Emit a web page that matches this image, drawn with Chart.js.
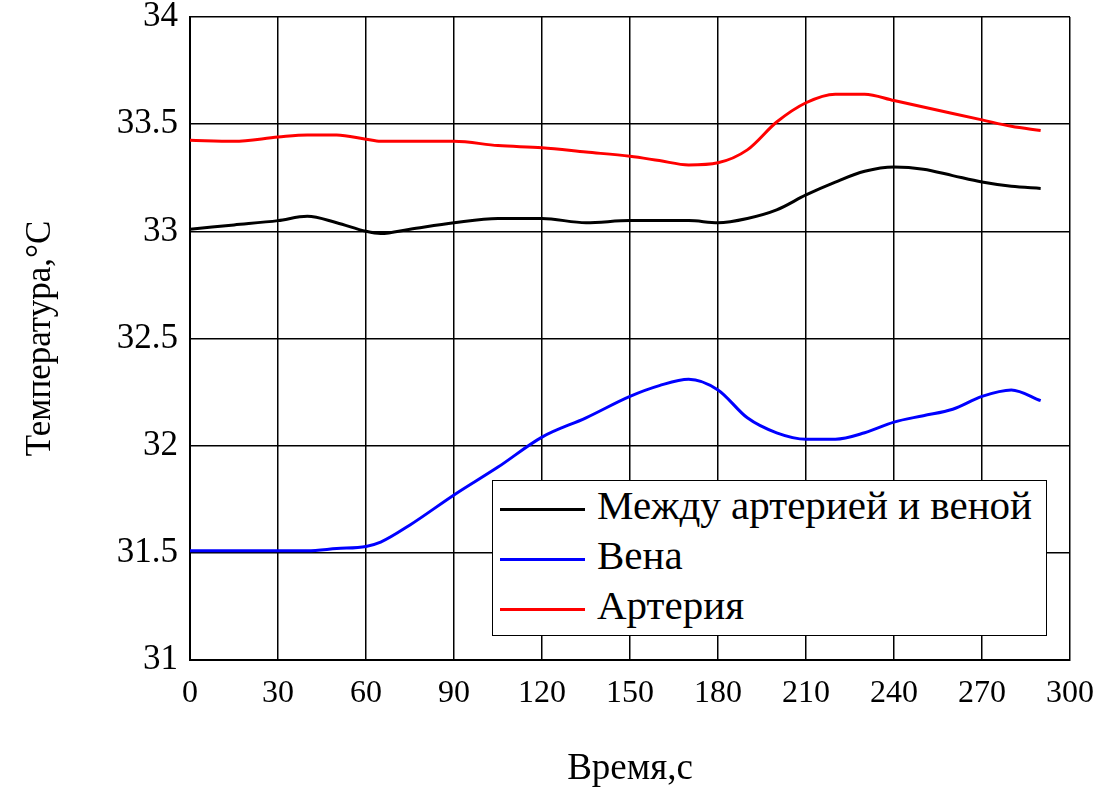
<!DOCTYPE html>
<html>
<head>
<meta charset="utf-8">
<script src="https://cdn.jsdelivr.net/npm/chart.js@4/dist/chart.umd.min.js"></script>
<style>
    body { margin: 0; background: #fff; }
    #wrap { position: relative; width: 1114px; height: 791px; }
    #legend {
        position: absolute; left: 492px; top: 480px; width: 555px; height: 156px;
        border: 1.5px solid #000; background: #fff; box-sizing: border-box;
        font-family: "Liberation Serif", serif; font-size: 41px; color: #000;
    }
    #legend .row { position: absolute; left: 7px; height: 48px; line-height: 48px; white-space: nowrap; }
    #legend .swatch { display: inline-block; width: 85px; height: 3px; vertical-align: middle; margin-right: 12px; }
</style>
</head>
<body>
<div id="wrap">
    <canvas id="tempChart" width="1114" height="791"></canvas>
    <div id="legend"></div>
</div>
<script>
// time, s
var times   = [0, 15, 30, 40, 50, 60, 65, 75, 90, 105, 120, 135, 150, 160, 170, 180, 190, 200, 210, 220, 230, 240, 250, 260, 270, 280, 290];
// temperatures, °C
var between = [33.01, 33.03, 33.05, 33.07, 33.04, 33.00, 32.99, 33.01, 33.04, 33.06, 33.06, 33.04, 33.05, 33.05, 33.05, 33.04, 33.06, 33.10, 33.17, 33.23, 33.28, 33.30, 33.29, 33.26, 33.23, 33.21, 33.20];
var vein    = [31.51, 31.51, 31.51, 31.51, 31.52, 31.53, 31.55, 31.63, 31.77, 31.90, 32.04, 32.13, 32.23, 32.28, 32.31, 32.26, 32.13, 32.06, 32.03, 32.03, 32.06, 32.11, 32.14, 32.17, 32.23, 32.26, 32.21];
var artery  = [33.425, 33.42, 33.44, 33.45, 33.45, 33.43, 33.42, 33.42, 33.42, 33.40, 33.39, 33.37, 33.35, 33.33, 33.31, 33.32, 33.38, 33.51, 33.60, 33.64, 33.64, 33.61, 33.58, 33.55, 33.52, 33.49, 33.47];
var seriesNames = ['Между артерией и веной', 'Вена', 'Артерия'];
var seriesColors = ['#000000', '#0000ff', '#ff0000'];
var xTicks = [0, 30, 60, 90, 120, 150, 180, 210, 240, 270, 300];
var yTicks = [31, 31.5, 32, 32.5, 33, 33.5, 34];

function pts(ys) {
    return times.map(function (t, i) { return { x: t, y: ys[i] }; });
}

var serif = "'Liberation Serif', serif";

var chart = new Chart(document.getElementById('tempChart').getContext('2d'), {
    type: 'line',
    data: {
        datasets: [between, vein, artery].map(function (ys, i) {
            return {
                label: seriesNames[i],
                data: pts(ys),
                borderColor: seriesColors[i],
                borderWidth: 3,
                pointRadius: 0,
                tension: 0.4,
                cubicInterpolationMode: 'monotone',
                fill: false
            };
        })
    },
    options: {
        responsive: false,
        animation: false,
        layout: { padding: { left: 0, right: 44, top: 17, bottom: 0 } },
        plugins: { legend: { display: false }, tooltip: { enabled: false } },
        scales: {
            x: {
                type: 'linear', min: 0, max: 300,
                afterBuildTicks: function (s) { s.ticks = xTicks.map(function (v) { return { value: v }; }); },
                afterFit: function (s) { s.height = 131; s.paddingLeft = 0; s.paddingRight = 0; },
                grid: { color: '#000', lineWidth: 1.5, drawTicks: false },
                border: { color: '#000', width: 2 },
                ticks: { color: '#000', padding: 14, maxRotation: 0, font: { family: serif, size: 32 } },
                title: { display: true, text: 'Время,с', color: '#000', padding: { top: 0, bottom: 0 }, font: { family: serif, size: 37 } }
            },
            y: {
                min: 31, max: 34,
                afterBuildTicks: function (s) { s.ticks = yTicks.map(function (v) { return { value: v }; }); },
                afterFit: function (s) { s.width = 190; s.paddingTop = 0; s.paddingBottom = 0; },
                grid: { color: '#000', lineWidth: 1.5, drawTicks: false },
                border: { color: '#000', width: 2 },
                ticks: {
                    color: '#000', padding: 12, font: { family: serif, size: 35 },
                    callback: function (v) { return String(v); }
                },
                title: { display: true, text: 'Температура,°C', color: '#000', padding: { top: 20, bottom: 0 }, font: { family: serif, size: 35 } }
            }
        }
    }
});

var legend = document.getElementById('legend');
seriesNames.forEach(function (name, i) {
    var row = document.createElement('div');
    row.className = 'row';
    row.style.top = (i * 50) + 'px';
    var sw = document.createElement('span');
    sw.className = 'swatch';
    sw.style.background = seriesColors[i];
    row.appendChild(sw);
    row.appendChild(document.createTextNode(name));
    legend.appendChild(row);
});
</script>
</body>
</html>
